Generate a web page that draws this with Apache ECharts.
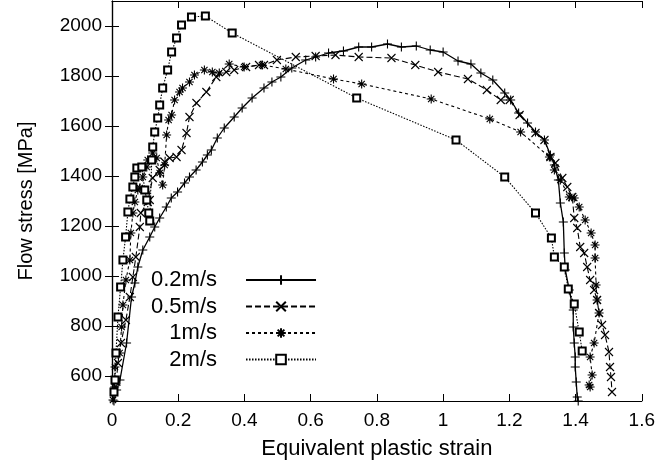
<!DOCTYPE html>
<html>
<head>
<meta charset="utf-8">
<script src="https://cdn.jsdelivr.net/npm/echarts@6/dist/echarts.min.js"></script>
<style>
html,body{margin:0;padding:0;background:#fff;}
#c{width:658px;height:467px;}
</style>
</head>
<body>
<div id="c"></div>
<script>
// ---- data ----
const seriesNames = ['0.2m/s', '0.5m/s', '1m/s', '2m/s'];

const s02x = [0.006,0.014,0.024,0.044,0.059,0.069,0.078,0.093,0.114,0.129,0.144,0.164,0.179,0.198,0.219,0.234,0.254,0.273,0.288,0.300,0.318,0.339,0.369,0.393,0.423,0.459,0.483,0.510,0.543,0.585,0.615,0.654,0.699,0.745,0.784,0.832,0.874,0.919,0.961,1.000,1.045,1.084,1.114,1.150,1.186,1.204,1.228,1.255,1.279,1.306,1.324,1.336,1.348,1.354,1.363,1.366,1.369,1.381,1.393,1.393,1.396,1.399,1.399,1.402,1.405,1.408];
const s02y = [500,544,584,732,916,972,1036,1104,1156,1196,1232,1276,1312,1336,1372,1396,1424,1456,1484,1504,1552,1592,1636,1672,1712,1752,1776,1796,1832,1864,1876,1892,1900,1916,1916,1928,1916,1920,1904,1896,1860,1848,1812,1784,1732,1704,1652,1612,1576,1544,1484,1444,1384,1292,1216,1092,1024,944,864,796,732,676,636,576,516,500];

const s05x = [0.013,0.018,0.027,0.042,0.054,0.063,0.072,0.084,0.087,0.108,0.114,0.123,0.144,0.159,0.174,0.195,0.210,0.225,0.234,0.255,0.285,0.315,0.345,0.369,0.405,0.444,0.459,0.498,0.555,0.615,0.675,0.745,0.844,0.916,0.985,1.075,1.132,1.174,1.201,1.231,1.279,1.306,1.324,1.339,1.360,1.375,1.390,1.396,1.405,1.414,1.426,1.435,1.444,1.456,1.465,1.471,1.480,1.489,1.501,1.504,1.507,1.510];
const s05y = [577,652,732,824,916,996,1076,1196,1252,1296,1304,1392,1424,1456,1472,1476,1504,1572,1636,1692,1736,1796,1816,1824,1836,1844,1844,1864,1876,1880,1884,1876,1872,1844,1816,1788,1744,1704,1704,1644,1572,1544,1476,1452,1392,1356,1316,1232,1192,1116,1092,1036,984,944,904,852,804,764,696,636,596,536];

const s1x = [0.003,0.008,0.009,0.023,0.029,0.033,0.042,0.054,0.057,0.063,0.069,0.078,0.084,0.093,0.105,0.108,0.123,0.135,0.144,0.153,0.159,0.165,0.171,0.180,0.189,0.204,0.213,0.234,0.249,0.279,0.303,0.324,0.354,0.399,0.453,0.525,0.669,0.754,0.964,1.141,1.234,1.321,1.336,1.354,1.381,1.396,1.411,1.429,1.447,1.459,1.459,1.462,1.465,1.471,1.456,1.444,1.450,1.441,1.444];
const s1y = [504,556,636,692,796,884,984,1064,1172,1252,1296,1344,1352,1396,1436,1464,1492,1472,1412,1364,1444,1564,1624,1644,1704,1736,1752,1776,1804,1824,1816,1812,1848,1836,1844,1828,1788,1768,1708,1628,1576,1476,1424,1384,1316,1312,1276,1224,1172,1124,1072,964,904,852,732,676,604,564,556];

const s2x = [0.006,0.009,0.012,0.018,0.026,0.033,0.041,0.048,0.054,0.063,0.069,0.075,0.090,0.099,0.105,0.111,0.114,0.120,0.123,0.129,0.138,0.144,0.153,0.168,0.180,0.195,0.210,0.240,0.282,0.363,0.739,1.039,1.186,1.279,1.327,1.336,1.366,1.378,1.396,1.411,1.420];
const s2y = [536,584,692,836,956,1064,1156,1256,1308,1356,1396,1432,1436,1344,1304,1252,1220,1464,1516,1576,1632,1684,1752,1824,1896,1952,2004,2036,2040,1972,1712,1544,1396,1252,1152,1076,1036,948,888,776,700];

const xTicks = [0, 0.2, 0.4, 0.6, 0.8, 1.0, 1.2, 1.4, 1.6];
const yTicks = [600, 800, 1000, 1200, 1400, 1600, 1800, 2000];

// ---- chart ----
const FONT = "'Liberation Sans', Arial, Helvetica, sans-serif";
const zip = (xs, ys) => xs.map((x, i) => [x, ys[i]]);

const SYM_PLUS = 'path://M5,0L5,10M0,5L10,5';
const SYM_X = 'path://M0,0L10,10M10,0L0,10';
const SYM_STAR = 'path://M5,0L5,10M0,5L10,5M1.5,1.5L8.5,8.5M8.5,1.5L1.5,8.5';

function mk(name, xs, ys, symbol, size, dash, width) {
  const isRect = symbol === 'emptyRect';
  return {
    name: name,
    type: 'line',
    data: zip(xs, ys),
    symbol: symbol,
    symbolSize: size,
    showSymbol: true,
    showAllSymbol: true,
    animation: false,
    clip: true,
    lineStyle: { color: '#000', width: width, type: dash },
    itemStyle: isRect
      ? { color: '#000', borderColor: '#000', borderWidth: 1.2 }
      : { color: 'none', borderColor: '#000', borderWidth: 1.1 },
    emphasis: { disabled: true }
  };
}

const chart = echarts.init(document.getElementById('c'), null, { renderer: 'canvas' });
const axisCommon = {
  axisLine: { show: true, lineStyle: { color: '#000', width: 1.2 } },
  axisTick: { show: true, inside: true, length: 7, lineStyle: { color: '#000', width: 1 } },
  splitLine: { show: false },
};
chart.setOption({
  backgroundColor: '#fff',
  animation: false,
  textStyle: { fontFamily: FONT },
  grid: { left: 112, right: 13, top: 1, bottom: 66, containLabel: false },
  xAxis: [
    Object.assign({
      type: 'value', min: xTicks[0], max: xTicks[xTicks.length - 1], interval: 0.2,
      position: 'bottom',
      name: 'Equivalent plastic strain', nameLocation: 'middle', nameGap: 37,
      nameTextStyle: { fontSize: 22, color: '#000', fontFamily: FONT },
      axisLabel: { fontSize: 19, color: '#000', margin: 10, fontFamily: FONT, formatter: v => String(v) }
    }, axisCommon),
    Object.assign({
      type: 'value', min: xTicks[0], max: xTicks[xTicks.length - 1], interval: 0.2,
      position: 'top', axisLabel: { show: false }
    }, axisCommon)
  ],
  yAxis: [
    Object.assign({}, axisCommon, {
      type: 'value', min: 500, max: 2100,
      position: 'left',
      name: 'Flow stress [MPa]', nameLocation: 'middle', nameGap: 76,
      nameTextStyle: { fontSize: 20, color: '#000', fontFamily: FONT },
      axisTick: { show: true, inside: true, length: 7, lineStyle: { color: '#000', width: 1 }, customValues: yTicks },
      axisLabel: { fontSize: 19, color: '#000', margin: 10, fontFamily: FONT, customValues: yTicks, formatter: v => String(v) }
    }),
    Object.assign({}, axisCommon, {
      type: 'value', min: 500, max: 2100,
      position: 'right',
      axisTick: { show: true, inside: true, length: 7, lineStyle: { color: '#000', width: 1 }, customValues: yTicks },
      axisLabel: { show: false }
    })
  ],
  legend: {
    show: true,
    orient: 'vertical',
    align: 'right',
    left: 146,
    top: 264,
    itemWidth: 70,
    itemHeight: 12,
    itemGap: 4.5,
    selectedMode: false,
    textStyle: { fontSize: 22, color: '#000', fontFamily: FONT, padding: [0, 24, 0, 0] },
    data: seriesNames
  },
  series: [
    mk(seriesNames[0], s02x, s02y, SYM_PLUS, 9, 'solid', 1.3),
    mk(seriesNames[1], s05x, s05y, SYM_X, 8, [6, 3], 1.1),
    mk(seriesNames[2], s1x, s1y, SYM_STAR, 9, [3, 3], 1.1),
    mk(seriesNames[3], s2x, s2y, 'emptyRect', 7, [1.5, 1.5], 1.1)
  ]
});
</script>
</body>
</html>
